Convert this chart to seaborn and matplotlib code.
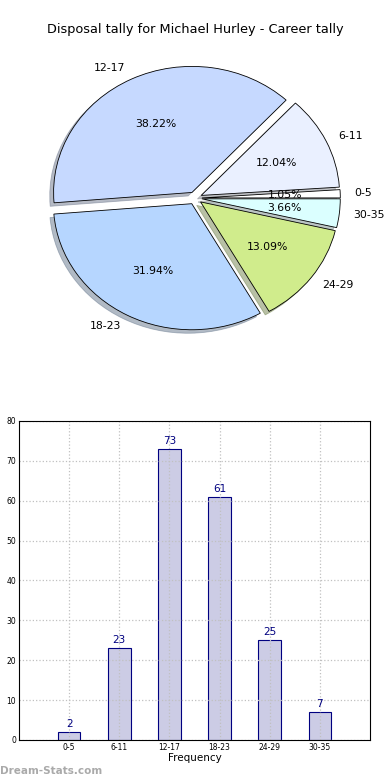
import matplotlib
matplotlib.use("Agg")
import matplotlib.pyplot as plt
import seaborn as sns
import pandas as pd

# Disposal tally data
ranges = ["0-5", "6-11", "12-17", "18-23", "24-29", "30-35"]
counts = [2, 23, 73, 61, 25, 7]
pie_colors = ["#ffffff", "#eaf0ff", "#c6d9ff", "#b6d6ff", "#d0ec8c", "#dbffff"]
yticks = list(range(0, 81, 10))

sns.set_style("white")
plt.rcParams['font.family'] = ['DejaVu Sans']
plt.rcParams['text.color'] = 'black'
plt.rcParams['xtick.color'] = 'black'
plt.rcParams['ytick.color'] = 'black'
plt.rcParams['axes.labelcolor'] = 'black'

fig = plt.figure(figsize=(3.9, 7.8), dpi=100)

# Pie chart (top)
ax1 = fig.add_axes([0.06, 0.544, 0.88, 0.404])
ax1.pie(counts, labels=ranges, colors=pie_colors, autopct="%.2f%%",
        explode=[0.05] * len(counts),
        shadow={"ox": -0.02, "oy": -0.02, "shade": 0.45}, startangle=0,
        wedgeprops=dict(edgecolor="black", linewidth=0.6),
        textprops=dict(fontsize=7.8, color="black"))
ax1.set_aspect("auto")
ax1.set_xlim(-1.24, 1.24)
ax1.set_ylim(-1.25, 1.25)
fig.text(0.5, 0.962, "Disposal tally for Michael Hurley - Career tally",
         ha="center", va="center", fontsize=9.3, color="black")

# Bar chart (bottom)
df = pd.DataFrame({"range": ranges, "count": counts})
ax2 = fig.add_axes([0.0487, 0.0513, 0.9, 0.409])
sns.barplot(data=df, x="range", y="count", color="#ccccE5", edgecolor="navy",
            linewidth=0.8, width=0.45, saturation=1, ax=ax2, zorder=2)
for i, c in enumerate(counts):
    ax2.text(i, c + 0.8, str(c), ha="center", va="bottom", color="navy", fontsize=7.5)
ax2.set_xlim(-1, 6)
ax2.set_ylim(0, 80)
ax2.set_yticks(yticks)
ax2.grid(True, linestyle=":", color="#c0c0c0", linewidth=0.9, zorder=0)
ax2.set_axisbelow(False)
ax2.tick_params(axis="both", labelsize=5.5, direction="in", length=3, pad=2)
ax2.set_xlabel("Frequency", fontsize=7.5, labelpad=1)
ax2.set_ylabel("")
for s in ax2.spines.values():
    s.set_color("black")
    s.set_linewidth(0.8)
    s.set_zorder(5)

fig.text(0.0, 0.012, "Dream-Stats.com", ha="left", va="center", fontsize=7.5,
         color="#aaaaaa", fontweight="bold")

fig.savefig("out.png", dpi=100)
